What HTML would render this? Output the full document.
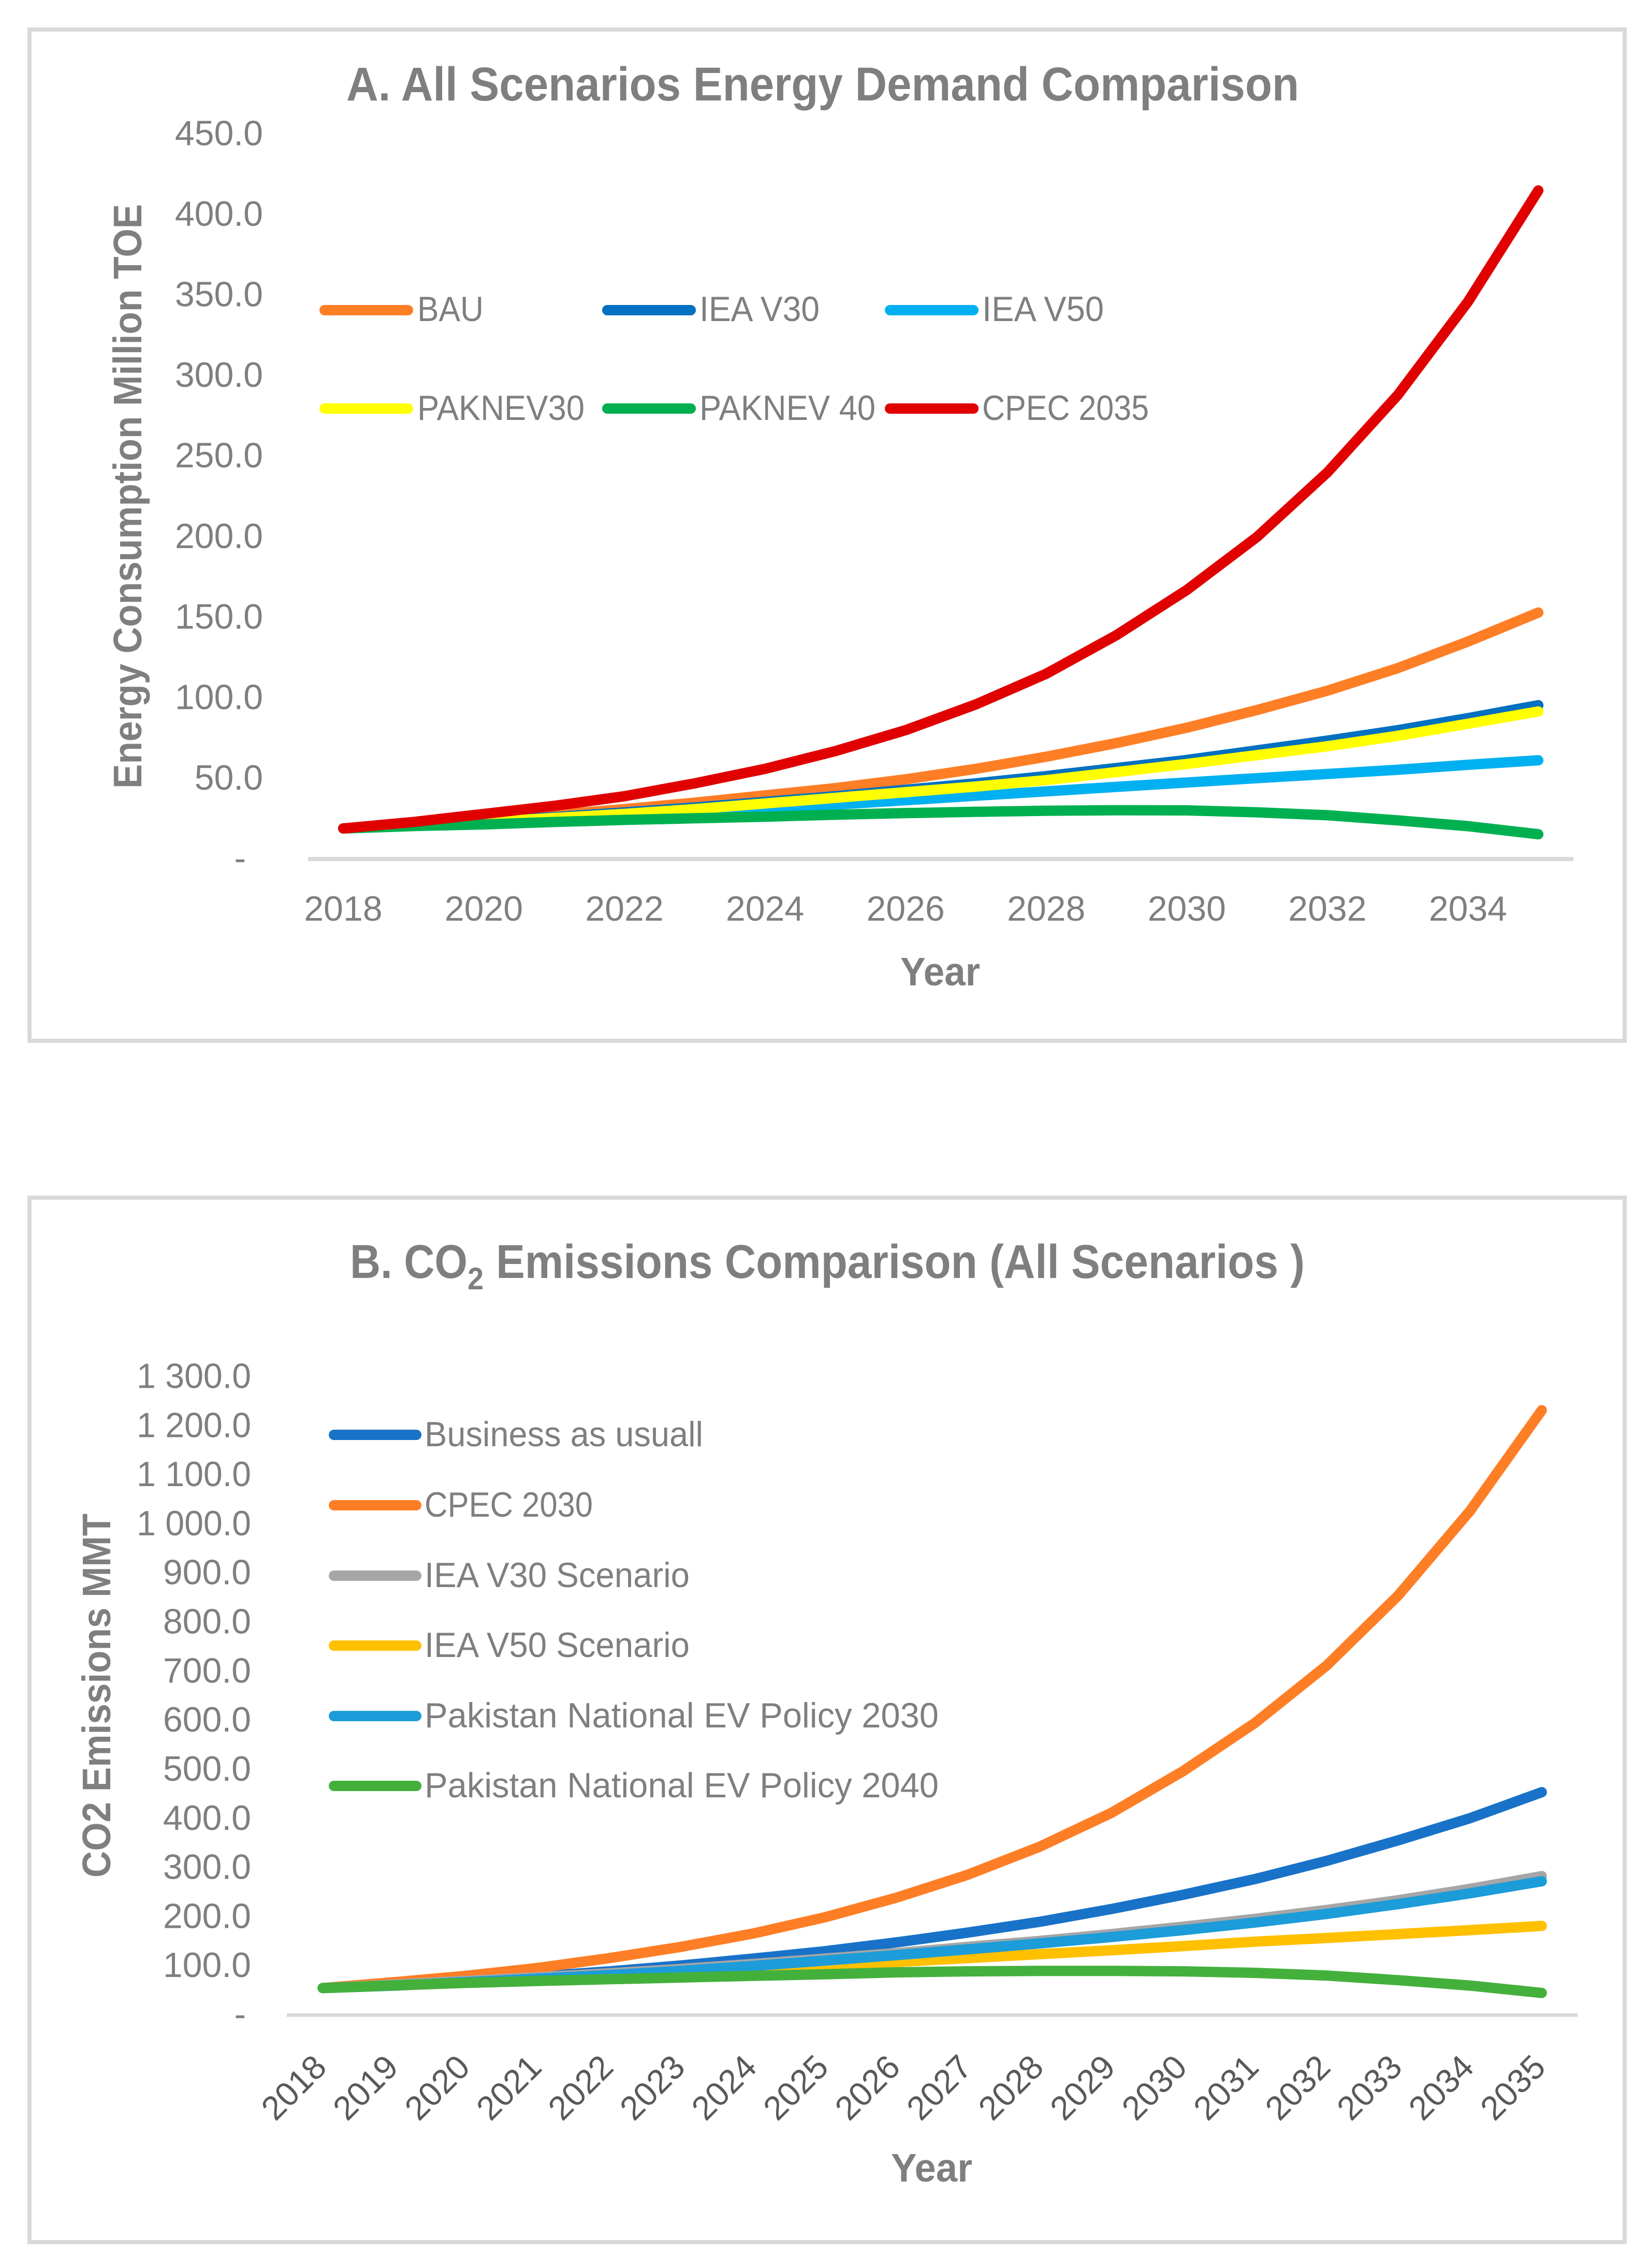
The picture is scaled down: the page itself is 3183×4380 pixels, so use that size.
<!DOCTYPE html>
<html lang="en">
<head>
<meta charset="utf-8">
<title>Energy Demand and CO2 Emissions Scenarios</title>
<style>
html,body{margin:0;padding:0;background:#fff;width:3183px;height:4380px;overflow:hidden}
svg{display:block}
text{font-family:"Liberation Sans",sans-serif;fill:#7f7f7f}
.t{font-size:68px}
.b{font-weight:bold}
</style>
</head>
<body>
<svg id="root" width="3183" height="4380" viewBox="0 0 3183 4380" xmlns="http://www.w3.org/2000/svg">
  <rect x="0" y="0" width="3183" height="4380" fill="#fff"/>

  <g id="panelA">
    <rect x="57" y="57" width="3081" height="1953" fill="#fff" stroke="#d9d9d9" stroke-width="8"/>
    <text class="b" x="669" y="194" font-size="92" textLength="1840" lengthAdjust="spacingAndGlyphs">A. All Scenarios Energy Demand Comparison</text>
    <text class="b" transform="translate(273 1523) rotate(-90)" x="0" y="0" font-size="77" textLength="1129" lengthAdjust="spacingAndGlyphs">Energy Consumption Million TOE</text>
    <text class="b" x="1739" y="1903" font-size="77" textLength="154" lengthAdjust="spacingAndGlyphs">Year</text>
    <rect x="595" y="1655" width="2444" height="8" fill="#d9d9d9"/>
    <g id="ticksA"></g>
    <g id="linesA"></g>
    <g>
      <g><line x1="627" x2="788" y1="599" y2="599" stroke="#fe7e26" stroke-width="20" stroke-linecap="round"/><text class="t" x="806" y="620" textLength="128" lengthAdjust="spacingAndGlyphs">BAU</text></g>
      <g><line x1="1173" x2="1334" y1="599" y2="599" stroke="#0070c0" stroke-width="20" stroke-linecap="round"/><text class="t" x="1351" y="620" textLength="232" lengthAdjust="spacingAndGlyphs">IEA V30</text></g>
      <g><line x1="1719" x2="1880" y1="599" y2="599" stroke="#00b0f0" stroke-width="20" stroke-linecap="round"/><text class="t" x="1897" y="620" textLength="235" lengthAdjust="spacingAndGlyphs">IEA V50</text></g>
      <g><line x1="627" x2="788" y1="789" y2="789" stroke="#ffff00" stroke-width="20" stroke-linecap="round"/><text class="t" x="806" y="811" textLength="323" lengthAdjust="spacingAndGlyphs">PAKNEV30</text></g>
      <g><line x1="1173" x2="1334" y1="789" y2="789" stroke="#00b050" stroke-width="20" stroke-linecap="round"/><text class="t" x="1351" y="811" textLength="340" lengthAdjust="spacingAndGlyphs">PAKNEV 40</text></g>
      <g><line x1="1719" x2="1880" y1="789" y2="789" stroke="#e00000" stroke-width="20" stroke-linecap="round"/><text class="t" x="1897" y="811" textLength="322" lengthAdjust="spacingAndGlyphs">CPEC 2035</text></g>
    </g>
  </g>

  <g id="panelB">
    <rect x="57" y="2313" width="3081" height="2017" fill="#fff" stroke="#d9d9d9" stroke-width="8"/>
    <g>
      <text class="b" x="676" y="2468" font-size="92" textLength="227" lengthAdjust="spacingAndGlyphs">B. CO</text>
      <text class="b" x="903" y="2490" font-size="60" textLength="31" lengthAdjust="spacingAndGlyphs">2</text>
      <text class="b" x="958" y="2468" font-size="92" textLength="1562" lengthAdjust="spacingAndGlyphs">Emissions Comparison (All Scenarios )</text>
    </g>
    <text class="b" transform="translate(213 3626) rotate(-90)" x="0" y="0" font-size="77" textLength="703" lengthAdjust="spacingAndGlyphs">CO2 Emissions MMT</text>
    <text class="b" x="1721" y="4213" font-size="77" textLength="157" lengthAdjust="spacingAndGlyphs">Year</text>
    <rect x="554" y="3888" width="2493" height="7" fill="#d9d9d9"/>
    <g id="ticksB"></g>
    <g id="linesB"></g>
    <g>
      <g><line x1="645" x2="804" y1="2771" y2="2771" stroke="#1872c8" stroke-width="20" stroke-linecap="round"/><text class="t" x="820" y="2793" textLength="538" lengthAdjust="spacingAndGlyphs">Business as usuall</text></g>
      <g><line x1="645" x2="804" y1="2907" y2="2907" stroke="#fe7e26" stroke-width="20" stroke-linecap="round"/><text class="t" x="820" y="2929" textLength="325" lengthAdjust="spacingAndGlyphs">CPEC 2030</text></g>
      <g><line x1="645" x2="804" y1="3043" y2="3043" stroke="#a6a6a6" stroke-width="20" stroke-linecap="round"/><text class="t" x="820" y="3065" textLength="512" lengthAdjust="spacingAndGlyphs">IEA V30 Scenario</text></g>
      <g><line x1="645" x2="804" y1="3178" y2="3178" stroke="#ffc000" stroke-width="20" stroke-linecap="round"/><text class="t" x="820" y="3200" textLength="512" lengthAdjust="spacingAndGlyphs">IEA V50 Scenario</text></g>
      <g><line x1="645" x2="804" y1="3314" y2="3314" stroke="#1c9cd8" stroke-width="20" stroke-linecap="round"/><text class="t" x="820" y="3336" textLength="993" lengthAdjust="spacingAndGlyphs">Pakistan National EV Policy 2030</text></g>
      <g><line x1="645" x2="804" y1="3449" y2="3449" stroke="#44b03c" stroke-width="20" stroke-linecap="round"/><text class="t" x="820" y="3471" textLength="993" lengthAdjust="spacingAndGlyphs">Pakistan National EV Policy 2040</text></g>
    </g>
  </g>
</svg>

<script>
/* Shared categories */
const years = [2018,2019,2020,2021,2022,2023,2024,2025,2026,2027,2028,2029,2030,2031,2032,2033,2034,2035];

/* Chart A values (Million TOE) */
const bauValues      = [19,21.5,24.5,27.5,31,35,39.5,44,49.5,56,63.5,72,81.5,92.5,104.5,118.5,135,153];
const ieaV30Values   = [19,21,23.5,26,29,32,35.5,39,43,47,51.5,56.5,61.5,67.5,73.5,80,87.5,95.5];
const ieaV50Values   = [19,20.5,22.3,24.3,26.3,28.5,31,33.8,36.5,39.3,42,44.8,47.5,50.2,52.8,55.4,58.5,61.3];
const paknev30Values = [19,20.8,23,25.5,28,31,34.5,38,41.5,45,49,54,59,64.5,70,76.5,84,91.6];
const paknev40Values = [19,20.5,21.5,23,24.3,25.3,26.3,27.5,28.5,29.3,30,30.3,30.2,29,27.2,24,20.4,15.4];
const cpec2035Values = [19,23,28,33,39,47,56,67,80,96,115,139,167,200,240,288,346,415];

/* Chart A axis labels */
const ticksAValues = [0,50,100,150,200,250,300,350,400,450];
const ticksALabels = ["-","50.0","100.0","150.0","200.0","250.0","300.0","350.0","400.0","450.0"];
const xLabelsA = [2018,2020,2022,2024,2026,2028,2030,2032,2034];

/* Chart B values (MMT) */
const businessValues = [55,62,70,79,89,101,115,130,148,168,190,216,245,277,314,356,401,454];
const cpec2030Values = [55,67,80,96,116,139,166,199,239,286,343,412,497,595,712,855,1027,1232];
const v30ScenarioValues = [55,62,69.5,77,85,94,104,115,126,139,151,165,180,196,214,234,257,283];
const v50ScenarioValues = [55,60,66,72,78,85,92.5,100,108,116,124,132,140.5,149.5,157,165,173,181.5];
const ev2030Values   = [55,60,67,74,81.5,90,100,111,122,134,146,159,173,188.5,206,226,248,272.5];
const ev2040Values   = [55,60.5,65.5,69.5,73,76.5,80,83,87,89,90,90,89,86,80.5,71,60,45];

/* Chart B axis labels */
const ticksBValues = [0,100,200,300,400,500,600,700,800,900,1000,1100,1200,1300];
const ticksBLabels = ["-","100.0","200.0","300.0","400.0","500.0","600.0","700.0","800.0","900.0","1\u00a0000.0","1\u00a0100.0","1\u00a0200.0","1\u00a0300.0"];

const SVGNS = "http://www.w3.org/2000/svg";

/* Axis functions */
function xA(year){ return 595 + (year - 2018 + 0.5) * (2444 / 18); }
function yA(v){ return 1659 - v * (1400 / 450); }
function xB(year){ return 554 + (year - 2018 + 0.5) * (2493 / 18); }
function yB(v){ return 3891.5 - v * (1232.5 / 1300); }

function drawLine(parent, values, color, xf, yf, name){
  const pts = values.map(function(v, i){ return xf(years[i]).toFixed(1) + "," + yf(v).toFixed(1); }).join(" ");
  const el = document.createElementNS(SVGNS, "polyline");
  el.setAttribute("points", pts);
  el.setAttribute("fill", "none");
  el.setAttribute("stroke", color);
  el.setAttribute("stroke-width", "20");
  el.setAttribute("stroke-linecap", "round");
  el.setAttribute("stroke-linejoin", "round");
  
  
  parent.appendChild(el);
}

/* Chart A series */
const linesA = document.getElementById("linesA");
drawLine(linesA, bauValues, "#fe7e26", xA, yA, "line-bau");
drawLine(linesA, ieaV30Values, "#0070c0", xA, yA, "line-iea-v30");
drawLine(linesA, ieaV50Values, "#00b0f0", xA, yA, "line-iea-v50");
drawLine(linesA, paknev30Values, "#ffff00", xA, yA, "line-paknev30");
drawLine(linesA, paknev40Values, "#00b050", xA, yA, "line-paknev-40");
drawLine(linesA, cpec2035Values, "#e00000", xA, yA, "line-cpec-2035");

/* Chart B series */
const linesB = document.getElementById("linesB");
drawLine(linesB, businessValues, "#1872c8", xB, yB, "line-business-as-usuall");
drawLine(linesB, cpec2030Values, "#fe7e26", xB, yB, "line-cpec-2030");
drawLine(linesB, v30ScenarioValues, "#a6a6a6", xB, yB, "line-iea-v30-scenario");
drawLine(linesB, v50ScenarioValues, "#ffc000", xB, yB, "line-iea-v50-scenario");
drawLine(linesB, ev2030Values, "#1c9cd8", xB, yB, "line-ev-policy-2030");
drawLine(linesB, ev2040Values, "#44b03c", xB, yB, "line-ev-policy-2040");

/* Chart A ticks */
const ticksA = document.getElementById("ticksA");
ticksAValues.forEach(function(v, i){
  const t = document.createElementNS(SVGNS, "text");
  t.setAttribute("class", "t");
  t.setAttribute("text-anchor", "end");
  t.setAttribute("x", v === 0 ? 475 : 508);
  t.setAttribute("y", yA(v) + 21.5);
  
  
  t.textContent = ticksALabels[i];
  ticksA.appendChild(t);
});
xLabelsA.forEach(function(y){
  const t = document.createElementNS(SVGNS, "text");
  t.setAttribute("class", "t");
  t.setAttribute("text-anchor", "middle");
  t.setAttribute("x", xA(y));
  t.setAttribute("y", 1778);
  
  
  t.textContent = y;
  ticksA.appendChild(t);
});

/* Chart B ticks */
const ticksB = document.getElementById("ticksB");
ticksBValues.forEach(function(v, i){
  const t = document.createElementNS(SVGNS, "text");
  t.setAttribute("class", "t");
  t.setAttribute("text-anchor", "end");
  t.setAttribute("x", v === 0 ? 475 : 485);
  t.setAttribute("y", yB(v) + 21.5);
  if (v >= 1000) {
    t.setAttribute("textLength", "221");
    t.setAttribute("lengthAdjust", "spacingAndGlyphs");
  }
  
  
  t.textContent = ticksBLabels[i];
  ticksB.appendChild(t);
});
years.forEach(function(y){
  const t = document.createElementNS(SVGNS, "text");
  t.setAttribute("text-anchor", "end");
  t.setAttribute("font-size", "65");
  t.setAttribute("style", "fill:#595959");
  t.setAttribute("transform", "translate(" + (xB(y) + 11) + " 3996) rotate(-45)");
  
  
  t.textContent = y;
  ticksB.appendChild(t);
});
</script>
</body>
</html>
